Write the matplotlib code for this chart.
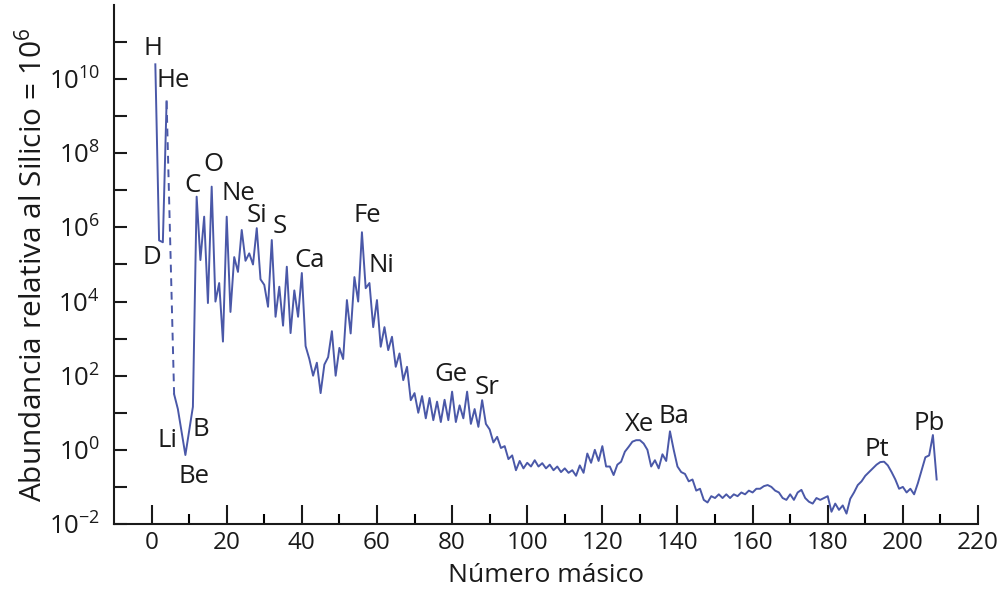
import numpy as np
import matplotlib
matplotlib.use("Agg")
import matplotlib.pyplot as plt
from matplotlib.ticker import FixedLocator, FixedFormatter

plt.rcParams['font.family'] = ['Open Sans', 'DejaVu Sans']
plt.rcParams['mathtext.fontset'] = 'custom'
plt.rcParams['mathtext.rm'] = 'Open Sans'
plt.rcParams['mathtext.it'] = 'Open Sans'

# H, D, He (solid part)
mass_light = [1, 2, 3, 4]
log_light = [10.4, 5.65, 5.6, 9.4]

# dashed gap He -> Li
mass_gap = [4, 6]
log_gap = [9.4, 1.5]

# Li onwards, log10 of abundance (Si = 1e6)
mass_main = [6, 7, 9, 11] + list(range(12, 210))
log_main = [
    1.5, 1.1, -0.14, 1.16,
    # 12-29
    6.83, 5.12, 6.29, 3.96, 7.1, 4.0, 4.5, 2.92, 6.29, 3.72,
    5.2, 4.8, 5.93, 5.1, 5.3, 5.0, 5.98, 4.6,
    # 30-49
    4.45, 3.86, 5.66, 3.59, 4.4, 3.35, 4.94, 3.15, 4.3, 3.59,
    4.77, 2.8, 2.45, 2.0, 2.35, 1.53, 2.3, 2.5, 3.2, 2.0,
    # 50-69
    2.75, 2.45, 4.04, 3.14, 4.66, 4.0, 5.87, 4.36, 4.5, 3.31,
    4.04, 2.78, 3.31, 2.69, 3.05, 2.24, 2.6, 1.88, 2.24, 1.34,
    # 70-89
    1.53, 1.0, 1.45, 0.85, 1.4, 0.8, 1.3, 0.75, 1.35, 0.8,
    1.57, 0.75, 1.2, 0.85, 1.57, 0.7, 1.1, 0.62, 1.34, 0.7,
    # 90-109
    0.55, 0.2, 0.35, 0.05, 0.1, -0.25, -0.15, -0.55, -0.3, -0.5,
    -0.35, -0.45, -0.28, -0.45, -0.36, -0.5, -0.4, -0.55, -0.45, -0.6,
    # 110-129
    -0.5, -0.62, -0.55, -0.7, -0.42, -0.62, -0.1, -0.35, 0.0, -0.3,
    0.1, -0.45, -0.45, -0.68, -0.4, -0.32, -0.05, 0.08, 0.22, 0.26,
    # 130-149
    0.26, 0.17, 0.0, -0.45, -0.28, -0.5, -0.12, -0.3, 0.5, 0.0,
    -0.45, -0.6, -0.65, -0.85, -0.8, -1.1, -1.05, -1.35, -1.42, -1.25,
    # 150-169
    -1.3, -1.2, -1.3, -1.2, -1.3, -1.2, -1.25, -1.15, -1.2, -1.1,
    -1.15, -1.05, -1.05, -0.98, -0.95, -1.0, -1.1, -1.15, -1.3, -1.35,
    # 170-189
    -1.2, -1.35, -1.15, -1.08, -1.3, -1.4, -1.45, -1.3, -1.35, -1.3,
    -1.25, -1.67, -1.45, -1.62, -1.5, -1.72, -1.32, -1.15, -0.95, -0.85,
    # 190-209
    -0.7, -0.6, -0.5, -0.4, -0.33, -0.32, -0.42, -0.6, -0.8, -1.05,
    -1.0, -1.15, -1.05, -1.2, -0.9, -0.55, -0.2, -0.15, 0.4, -0.8,
]

labels = ['H', 'He', 'D', 'C', 'O', 'Ne', 'Si', 'S', 'Ca', 'Fe', 'Ni',
          'Ge', 'Sr', 'Xe', 'Ba', 'Pt', 'Pb', 'Li', 'B', 'Be']
label_x = [0.4, 5.8, 0.0, 11.0, 16.4, 23.0, 28.0, 34.2, 42.0, 57.4, 61.2,
           79.8, 89.4, 130.0, 139.0, 193.0, 207.0, 4.2, 13.2, 11.4]
label_log = [10.84, 9.97, 5.2, 7.14, 7.7, 6.92, 6.33, 6.03, 5.1, 6.33, 4.98,
             2.04, 1.67, 0.67, 0.91, 0.02, 0.72, 0.26, 0.55, -0.71]

line_col = '#4a58a8'
txt_col = '#1a1a1a'

fig = plt.figure(figsize=(10.01, 5.89), dpi=100)
ax = fig.add_axes([0.1139, 0.1104, 0.977 - 0.1139, 0.9915 - 0.1104])

ax.plot(mass_light, 10.0 ** np.array(log_light), color=line_col, lw=1.4)
ax.plot(mass_gap, 10.0 ** np.array(log_gap), color=line_col, lw=1.4,
        ls=(0, (4, 3)))
ax.plot(mass_main, 10.0 ** np.array(log_main), color=line_col, lw=1.4)

for t, x, y in zip(labels, label_x, label_log):
    ax.text(x, 10.0 ** y, t, fontsize=18.5, color=txt_col,
            ha='center', va='center')

ax.set_yscale('log')
ax.set_xlim(-10, 220)
ax.set_ylim(1e-2, 1e12)

ax.set_xticks(np.arange(0, 221, 20))
ax.set_xticks(np.arange(10, 220, 20), minor=True)
ax.yaxis.set_major_locator(FixedLocator([10.0 ** k for k in range(-2, 11, 2)]))
ax.yaxis.set_major_formatter(FixedFormatter(
    [r'$10^{%d}$' % k if k >= 0 else r'$10^{-%d}$' % -k for k in range(-2, 11, 2)]))
ax.yaxis.set_minor_locator(FixedLocator([10.0 ** k for k in range(-1, 12, 2)]))
ax.yaxis.set_minor_formatter(FixedFormatter([]))

ax.tick_params(axis='x', which='major', direction='in', length=14, width=1.5,
               labelsize=17.5, pad=5, colors=txt_col)
ax.tick_params(axis='x', which='minor', direction='in', length=7, width=1.5)
ax.tick_params(axis='y', which='both', direction='in', length=9.5, width=1.5,
               labelsize=18.5, pad=10, colors=txt_col)

for s in ['top', 'right']:
    ax.spines[s].set_visible(False)
for s in ['left', 'bottom']:
    ax.spines[s].set_linewidth(1.5)
    ax.spines[s].set_color(txt_col)

ax.set_xlabel('Número másico', fontsize=19, color=txt_col, va='center')
ax.xaxis.set_label_coords(0.5, -0.1)
ax.set_ylabel('Abundancia relativa al Silicio = 10$^6$', fontsize=21.5,
              color=txt_col, labelpad=0)

fig.savefig('out.png', dpi=100)
